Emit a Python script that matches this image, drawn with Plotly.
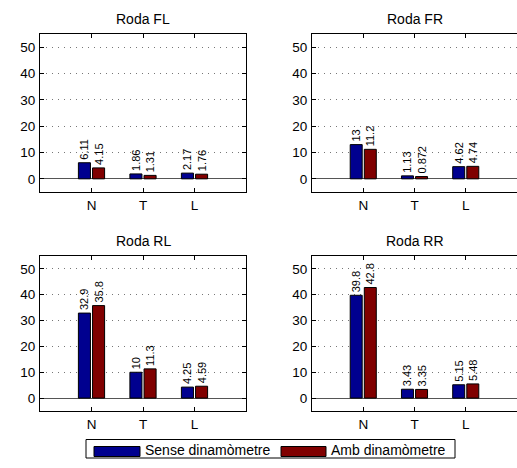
import plotly.graph_objects as go

categories = ["N", "T", "L"]
titles = ["Roda FL", "Roda FR", "Roda RL", "Roda RR"]
sense = [
    [6.11, 1.86, 2.17],
    [13, 1.13, 4.62],
    [32.9, 10, 4.25],
    [39.8, 3.43, 5.15],
]
amb = [
    [4.15, 1.31, 1.76],
    [11.2, 0.872, 4.74],
    [35.8, 11.3, 4.59],
    [42.8, 3.35, 5.48],
]
series_names = ["Sense dinamòmetre", "Amb dinamòmetre"]
series_colors = ["#00008F", "#800000"]
yticks = [0, 10, 20, 30, 40, 50]

W, H = 517, 468
FONT = "Liberation Sans, Arial, sans-serif"

def px(x):
    return x / W

def py(y):
    return 1 - y / H

# axis boxes in pixels: (left, top, right, bottom)
boxes = [
    (40, 34, 246, 192),
    (312, 34, 518, 192),
    (40, 256, 246, 411),
    (312, 256, 518, 411),
]

fig = go.Figure()
annotations = []
for i in range(4):
    sfx = "" if i == 0 else str(i + 1)
    for vals, name, col in [(sense[i], series_names[0], series_colors[0]),
                            (amb[i], series_names[1], series_colors[1])]:
        fig.add_trace(go.Bar(
            x=[1, 2, 3], y=vals, name=name, showlegend=False,
            marker=dict(color=col, line=dict(color="black", width=1)),
            text=[f"{v:g}" for v in vals], textposition="outside",
            textangle=-90, constraintext="none", cliponaxis=False,
            textfont=dict(family=FONT, size=11, color="black"),
            xaxis="x" + sfx, yaxis="y" + sfx,
        ))
    l, t, r, b = boxes[i]
    right_col = i % 2 == 1
    fig.layout["xaxis" + sfx] = dict(
        domain=[px(l), min(1.0, px(r))], range=[0, 4],
        tickmode="array", tickvals=[1, 2, 3], ticktext=categories,
        ticks="inside", ticklen=4, tickcolor="black",
        showline=True, linecolor="black", linewidth=1, mirror="ticks",
        showgrid=False, zeroline=False, anchor="y" + sfx,
        tickfont=dict(family=FONT, size=13.5, color="black"),
        ticklabelstandoff=1, fixedrange=True,
    )
    fig.layout["yaxis" + sfx] = dict(
        domain=[py(b), py(t)], range=[-5, 55],
        tickmode="array", tickvals=yticks,
        ticks="inside", ticklen=4, tickcolor="black",
        showline=True, linecolor="black", linewidth=1,
        mirror=False if right_col else "ticks",
        showgrid=True, gridcolor="#777777", gridwidth=1, griddash="1px,5px",
        zeroline=True, zerolinecolor="#555555", zerolinewidth=1,
        anchor="x" + sfx,
        tickfont=dict(family=FONT, size=13.5, color="black"),
        ticklabelstandoff=1, fixedrange=True,
    )
    annotations.append(dict(
        text=titles[i], xref="paper", yref="paper",
        x=px((l + r) / 2), y=py(t - 15), xanchor="center", yanchor="middle",
        showarrow=False, font=dict(family=FONT, size=14, color="black", weight="normal"),
    ))

# manual legend
shapes = [
    dict(type="rect", xref="paper", yref="paper",
         x0=px(86), x1=px(455), y0=py(458), y1=py(439.5),
         line=dict(color="black", width=1), fillcolor="white"),
    dict(type="rect", xref="paper", yref="paper",
         x0=px(94), x1=px(140), y0=py(456.5), y1=py(446.5),
         line=dict(color="black", width=1), fillcolor=series_colors[0]),
    dict(type="rect", xref="paper", yref="paper",
         x0=px(281), x1=px(326), y0=py(456.5), y1=py(446.5),
         line=dict(color="black", width=1), fillcolor=series_colors[1]),
]
annotations.append(dict(text=series_names[0], xref="paper", yref="paper",
                        x=px(143), y=py(450), xanchor="left", yanchor="middle",
                        showarrow=False, font=dict(family=FONT, size=14, color="black")))
annotations.append(dict(text=series_names[1], xref="paper", yref="paper",
                        x=px(329), y=py(450), xanchor="left", yanchor="middle",
                        showarrow=False, font=dict(family=FONT, size=14, color="black")))

fig.update_layout(
    width=W, height=H, margin=dict(l=0, r=0, t=0, b=0),
    paper_bgcolor="white", plot_bgcolor="white",
    barmode="group", bargap=0.45, bargroupgap=0.15,
    annotations=annotations, shapes=shapes, showlegend=False,
    font=dict(family=FONT, color="black"),
)

fig.write_html("out.html")
